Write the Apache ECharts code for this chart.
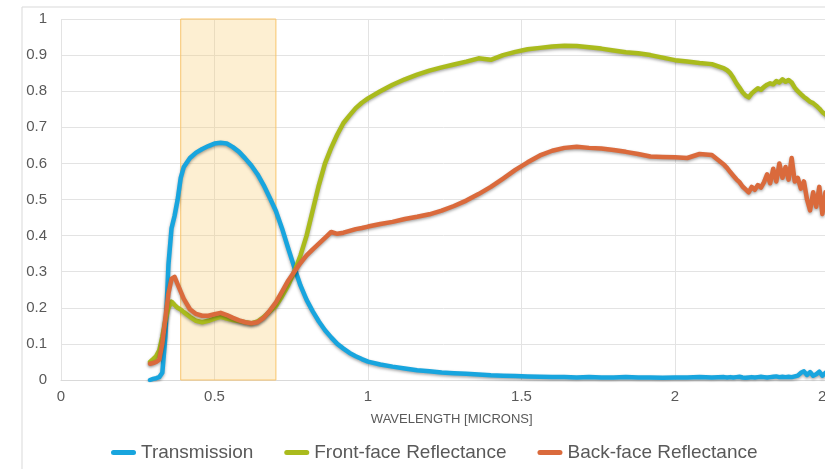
<!DOCTYPE html>
<html>
<head>
<meta charset="utf-8">
<script src="https://cdn.jsdelivr.net/npm/echarts@6/dist/echarts.min.js"></script>
<style>
html,body{margin:0;padding:0;background:#fff;}
#chart{width:825px;height:469px;}
</style>
</head>
<body>
<div id="chart"></div>
<script>
var wavelengths = [
  0.29,0.30,0.31,0.32,0.33,0.34,0.35,0.36,0.37,0.38,0.39,0.40,
  0.42,0.44,0.46,0.48,0.50,0.52,0.54,0.56,0.58,0.60,0.62,0.64,0.66,0.68,0.70,
  0.72,0.74,0.76,0.78,0.80,0.82,0.84,0.86,0.88,0.90,0.92,0.94,0.96,0.98,1.00,
  1.04,1.08,1.12,1.16,1.20,1.24,1.28,1.32,1.36,1.40,1.44,1.48,1.52,1.56,1.60,
  1.64,1.68,1.72,1.76,1.80,1.84,1.88,1.92,1.96,2.00,2.04,2.08,2.12,2.16,
  2.17,2.18,2.19,2.20,2.21,2.22,2.23,2.24,2.25,2.26,2.27,2.28,2.29,2.30,2.31,
  2.32,2.33,2.34,2.35,2.36,2.37,2.38,2.39,2.40,2.41,2.42,2.43,2.44,2.45,2.46,
  2.47,2.48,2.49,2.50
];
var transmission = [
  0.000,0.003,0.005,0.008,0.02,0.12,0.32,0.42,0.455,0.50,0.56,0.59,
  0.615,0.63,0.64,0.648,0.655,0.657,0.655,0.645,0.632,0.614,0.594,0.57,0.54,0.505,0.468,
  0.42,0.365,0.312,0.262,0.222,0.19,0.162,0.138,0.118,0.1,0.087,0.075,0.066,0.058,0.051,
  0.043,0.037,0.032,0.027,0.024,0.021,0.019,0.017,0.015,0.013,0.012,0.011,0.010,0.009,0.008,
  0.008,0.007,0.008,0.007,0.007,0.008,0.007,0.007,0.006,0.007,0.007,0.008,0.007,0.008,
  0.007,0.008,0.007,0.008,0.009,0.007,0.006,0.007,0.008,0.007,0.008,0.009,0.008,0.007,0.008,
  0.009,0.010,0.008,0.009,0.008,0.009,0.008,0.010,0.012,0.020,0.024,0.014,0.022,0.012,0.016,
  0.023,0.012,0.020,0.014
];
var frontReflectance = [
  0.05,0.058,0.066,0.082,0.12,0.165,0.2,0.217,0.208,0.2,0.195,0.188,
  0.175,0.164,0.16,0.164,0.17,0.175,0.17,0.166,0.163,0.16,0.157,0.162,0.174,0.19,0.205,
  0.232,0.262,0.3,0.345,0.4,0.47,0.54,0.6,0.643,0.68,0.712,0.733,0.753,0.768,0.78,
  0.8,0.818,0.833,0.846,0.857,0.866,0.874,0.882,0.891,0.887,0.9,0.909,0.916,0.92,0.924,
  0.926,0.925,0.922,0.918,0.913,0.908,0.905,0.9,0.893,0.886,0.882,0.878,0.875,0.863,
  0.858,0.85,0.837,0.822,0.81,0.797,0.788,0.783,0.794,0.801,0.808,0.804,0.812,0.818,0.822,
  0.819,0.828,0.824,0.833,0.826,0.831,0.824,0.81,0.8,0.792,0.784,0.778,0.771,0.767,0.76,
  0.752,0.742,0.736,0.728
];
var backReflectance = [
  0.045,0.047,0.05,0.056,0.1,0.17,0.24,0.28,0.286,0.265,0.245,0.225,
  0.196,0.183,0.178,0.178,0.182,0.186,0.18,0.172,0.165,0.16,0.157,0.16,0.172,0.192,0.215,
  0.245,0.275,0.3,0.324,0.345,0.362,0.378,0.394,0.41,0.405,0.408,0.413,0.418,0.421,0.425,
  0.432,0.438,0.446,0.452,0.459,0.469,0.482,0.497,0.515,0.535,0.558,0.582,0.603,0.622,0.635,
  0.643,0.646,0.643,0.641,0.637,0.632,0.626,0.619,0.618,0.617,0.615,0.626,0.623,0.596,
  0.587,0.576,0.566,0.556,0.548,0.536,0.528,0.52,0.535,0.527,0.54,0.533,0.548,0.57,0.545,
  0.585,0.55,0.6,0.56,0.59,0.555,0.615,0.55,0.56,0.53,0.55,0.5,0.47,0.52,0.48,
  0.535,0.46,0.52,0.47
];
var seriesNames = ['Transmission', 'Front-face Reflectance', 'Back-face Reflectance'];
var xTicks = [0, 0.5, 1, 1.5, 2, 2.5];
var yTicks = [0, 0.1, 0.2, 0.3, 0.4, 0.5, 0.6, 0.7, 0.8, 0.9, 1];
var highlightBand = [0.39, 0.70];

function pairs(vals) {
  return wavelengths.map(function (w, i) { return [w, vals[i]]; });
}
var colors = ['#18A5DE', '#AABB1D', '#DA6A3C'];
var valueArrays = [transmission, frontReflectance, backReflectance];

var series = valueArrays.map(function (vals, i) {
  return {
    name: seriesNames[i],
    type: 'line',
    data: pairs(vals),
    showSymbol: false,
    symbol: 'none',
    z: 2 + i,
    lineStyle: {
      width: 4.5,
      color: colors[i],
      shadowColor: 'rgba(0,0,0,0.35)',
      shadowBlur: 3,
      shadowOffsetY: 1.5,
      cap: 'round',
      join: 'round'
    },
    itemStyle: { color: colors[i] }
  };
});
series.push({
  name: 'band',
  type: 'line',
  data: [],
  z: 10,
  silent: true,
  markArea: {
    silent: true,
    itemStyle: {
      color: 'rgba(250,205,115,0.32)',
      borderColor: '#F8C46C',
      borderWidth: 1
    },
    data: [[{ xAxis: highlightBand[0], yAxis: yTicks[0] }, { xAxis: highlightBand[1], yAxis: yTicks[yTicks.length - 1] }]]
  }
});

var capsule = 'path://M2.5,0 L22.5,0 A2.5,2.5 0 0 1 22.5,5 L2.5,5 A2.5,2.5 0 0 1 2.5,0 Z';

var chart = echarts.init(document.getElementById('chart'), null, { renderer: 'canvas' });
chart.setOption({
  animation: false,
  backgroundColor: '#ffffff',
  color: colors,
  graphic: [{
    type: 'rect',
    left: 19.5, top: 4.5,
    shape: { width: 900, height: 600 },
    style: { fill: 'none', stroke: '#d9d9d9', lineWidth: 1 },
    silent: true
  }],
  grid: {
    left: 61, right: -3.5, top: 19, bottom: 89,
    containLabel: false,
    outerBoundsMode: 'none'
  },
  legend: {
    data: seriesNames.map(function (n) { return { name: n, icon: capsule }; }),
    left: 106,
    top: 438,
    itemWidth: 25,
    itemHeight: 5,
    itemGap: 31,
    textStyle: { fontFamily: 'Liberation Sans, Arial, sans-serif', fontSize: 19, color: '#595959' }
  },
  xAxis: {
    type: 'value',
    min: xTicks[0],
    max: xTicks[xTicks.length - 1],
    interval: 0.5,
    name: 'WAVELENGTH [MICRONS]',
    nameLocation: 'middle',
    nameGap: 33,
    nameTextStyle: { fontFamily: 'Liberation Sans, Arial, sans-serif', fontSize: 13, color: '#595959', padding: [0, 0, 0, 14] },
    axisLine: { show: true, lineStyle: { color: '#d9d9d9', width: 1 } },
    axisTick: { show: false },
    axisLabel: {
      margin: 9,
      fontFamily: 'Liberation Sans, Arial, sans-serif', fontSize: 15, color: '#595959',
      formatter: function (v) { return String(+v.toFixed(1)); }
    },
    splitLine: { show: true, lineStyle: { color: '#e3e3e3', width: 1 } }
  },
  yAxis: {
    type: 'value',
    min: yTicks[0],
    max: yTicks[yTicks.length - 1],
    interval: 0.1,
    axisLine: { show: false },
    axisTick: { show: false },
    axisLabel: {
      margin: 14,
      fontFamily: 'Liberation Sans, Arial, sans-serif', fontSize: 15, color: '#595959',
      formatter: function (v) { return String(+v.toFixed(1)); }
    },
    splitLine: { show: true, lineStyle: { color: '#e3e3e3', width: 1 } }
  },
  series: series
});
</script>
</body>
</html>
